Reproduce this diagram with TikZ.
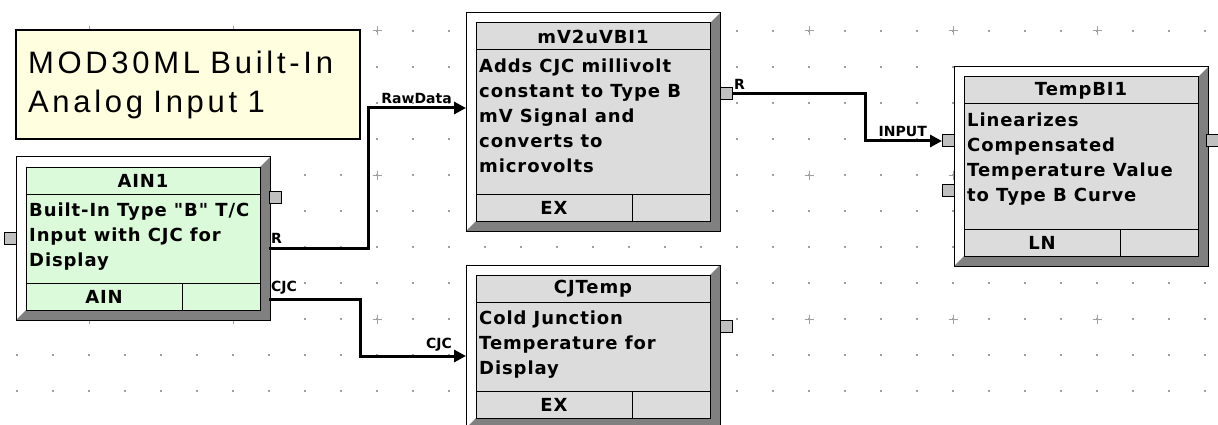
\documentclass[tikz,border=0pt]{standalone}
\usepackage{xcolor}
\usepackage{fontspec}
\usepackage{tikz}
\usetikzlibrary{arrows.meta, positioning}
\newfontfamily\fbfont{DejaVu Sans}[LetterSpace=5]
\newfontfamily\lblfont{DejaVu Sans}
\newfontfamily\notefont{Liberation Sans}[LetterSpace=12]
\definecolor{notebg}{HTML}{FFFFE0}
\definecolor{aingreen}{HTML}{DAFADA}
\definecolor{blockgray}{HTML}{DCDCDC}
\definecolor{bevelgray}{HTML}{808080}
\definecolor{portgray}{HTML}{C0C0C0}
\definecolor{gridgray}{HTML}{A0A0A0}
\tikzstyle{fbouter}=[draw=black,line width=1pt,fill=white,minimum width=254pt,
  anchor=north west,inner sep=0pt,outer sep=0pt,
  path picture={\fill[bevelgray] (path picture bounding box.north east)
    -- (path picture bounding box.south east) -- (path picture bounding box.south west)
    -- ([shift={(10pt,10pt)}]path picture bounding box.south west)
    -- ([shift={(-10pt,10pt)}]path picture bounding box.south east)
    -- ([shift={(-10pt,-10pt)}]path picture bounding box.north east) -- cycle;}]
\tikzstyle{fbpart}=[draw=black,line width=1pt,anchor=north west,inner sep=0pt,outer sep=0pt,
  font=\fbfont\bfseries\fontsize{18}{25}\selectfont]
\tikzstyle{fbtitle}=[fbpart,minimum width=234pt,minimum height=27pt]
\tikzstyle{fbbody}=[fbpart,minimum width=234pt]
\tikzstyle{fbfoot}=[fbpart,minimum height=27pt]
\tikzstyle{fbtext}=[anchor=north west,align=left,inner xsep=3pt,inner ysep=8.5pt,
  font=\fbfont\bfseries\fontsize{18}{25}\selectfont]
\tikzstyle{port}=[draw=black,line width=1pt,fill=portgray,minimum width=12pt,
  minimum height=12pt,inner sep=0pt,outer sep=0pt]
\tikzstyle{wire}=[line width=3pt,-{Triangle[length=12pt,width=12pt]}]
\tikzstyle{wlbl}=[inner xsep=2pt,inner ysep=4pt,font=\lblfont\bfseries\fontsize{14}{16}\selectfont]
% function block: name, x, y, height, fill, title, text, footer
\newcommand{\fbblock}[8]{%
  \node[fbouter,minimum height=#4pt] (#1) at (#2,#3) {};
  \node[fbtitle,fill=#5] (#1-t) at ([shift={(10pt,-10pt)}]#1.north west) {#6};
  \node[fbbody,fill=#5,minimum height=#4pt-74pt] (#1-b) at (#1-t.south west) {};
  \node[fbtext] (#1-d) at (#1-b.north west) {#7};
  \node[fbfoot,fill=#5,minimum width=156pt] (#1-fl) at (#1-b.south west) {#8};
  \node[fbfoot,fill=#5,minimum width=78pt] (#1-fr) at (#1-fl.north east) {};
}
\begin{document}
\begin{tikzpicture}[x=1pt,y=-1pt]
  \useasboundingbox[fill=white] (0,0) rectangle (1218,425);
  % sheet grid
  \foreach \gx in {0,...,33}
    \foreach \gy in {0,...,10}
      \fill[gridgray] ({17+36*\gx-0.75},{31+36*\gy-0.75}) rectangle ++(1.5,1.5);
  \foreach \cx in {89,233,...,1097}
    \foreach \cy in {31,175,319}
      \draw[gridgray,line width=1pt] (\cx-4.5,\cy) -- (\cx+4.5,\cy) (\cx,\cy-4.5) -- (\cx,\cy+4.5);

  \node[draw=black,line width=2pt,fill=notebg,anchor=north west,minimum width=344pt,
        minimum height=109pt,text width=320pt,inner xsep=12pt,align=left,
        font=\notefont\fontsize{31}{41}\selectfont] (note) at (15,29) {MOD30ML Built-In\\[-2pt]Analog Input 1};

  \fbblock{ain}{16}{157}{163}{aingreen}{AIN1}{Built-In Type "B" T/C\\Input with CJC for\\Display}{AIN}
  \fbblock{mv}{466}{13}{218}{blockgray}{mV2uVBI1}{Adds CJC millivolt\\constant to Type B\\mV Signal and\\converts to\\microvolts}{EX}
  \fbblock{cj}{466}{265}{163}{blockgray}{CJTemp}{Cold Junction\\Temperature for\\Display}{EX}
  \fbblock{tb}{954}{67}{199}{blockgray}{TempBI1}{Linearizes\\Compensated\\Temperature Value\\to Type B Curve}{LN}

  % ports
  \node[port,anchor=east] (ain-in) at (16,238.5) {};
  \node[port,anchor=west] (ain-p) at (269,197.5) {};
  \node[port,anchor=west] (mv-p) at (720,93.5) {};
  \node[port,anchor=west] (cj-p) at (720,326.5) {};
  \node[port,anchor=east] (tb-in1) at (954,141) {};
  \node[port,anchor=east] (tb-in2) at (954,190) {};
  \node[port,anchor=west] (tb-p) at (1206,140.5) {};
  \coordinate (ain-r) at (269,248);
  \coordinate (ain-cjc) at (269,299);
  \coordinate (mv-raw) at (466,108);
  \coordinate (cj-cjc) at (466,356);

  % connections
  \draw[wire] (ain-r) -- ++(99,0) |- (mv-raw);
  \draw[wire] (ain-cjc) -- ++(91,0) |- (cj-cjc);
  \draw[wire] (mv-p.east) -- ++(133,0) |- (tb-in1.west);

  \node[wlbl,anchor=south west] (l-r1) at (ain-r) {R};
  \node[wlbl,anchor=south west] (l-cjc1) at (ain-cjc) {CJC};
  \node[wlbl,anchor=south east] (l-raw) at ([xshift=-12pt]mv-raw) {RawData};
  \node[wlbl,anchor=south east] (l-cjc2) at ([xshift=-12pt]cj-cjc) {CJC};
  \node[wlbl,anchor=south west] (l-r2) at (mv-p.east) {R};
  \node[wlbl,anchor=south east] (l-in) at ([xshift=-13pt]tb-in1.west) {INPUT};
\end{tikzpicture}
\end{document}
